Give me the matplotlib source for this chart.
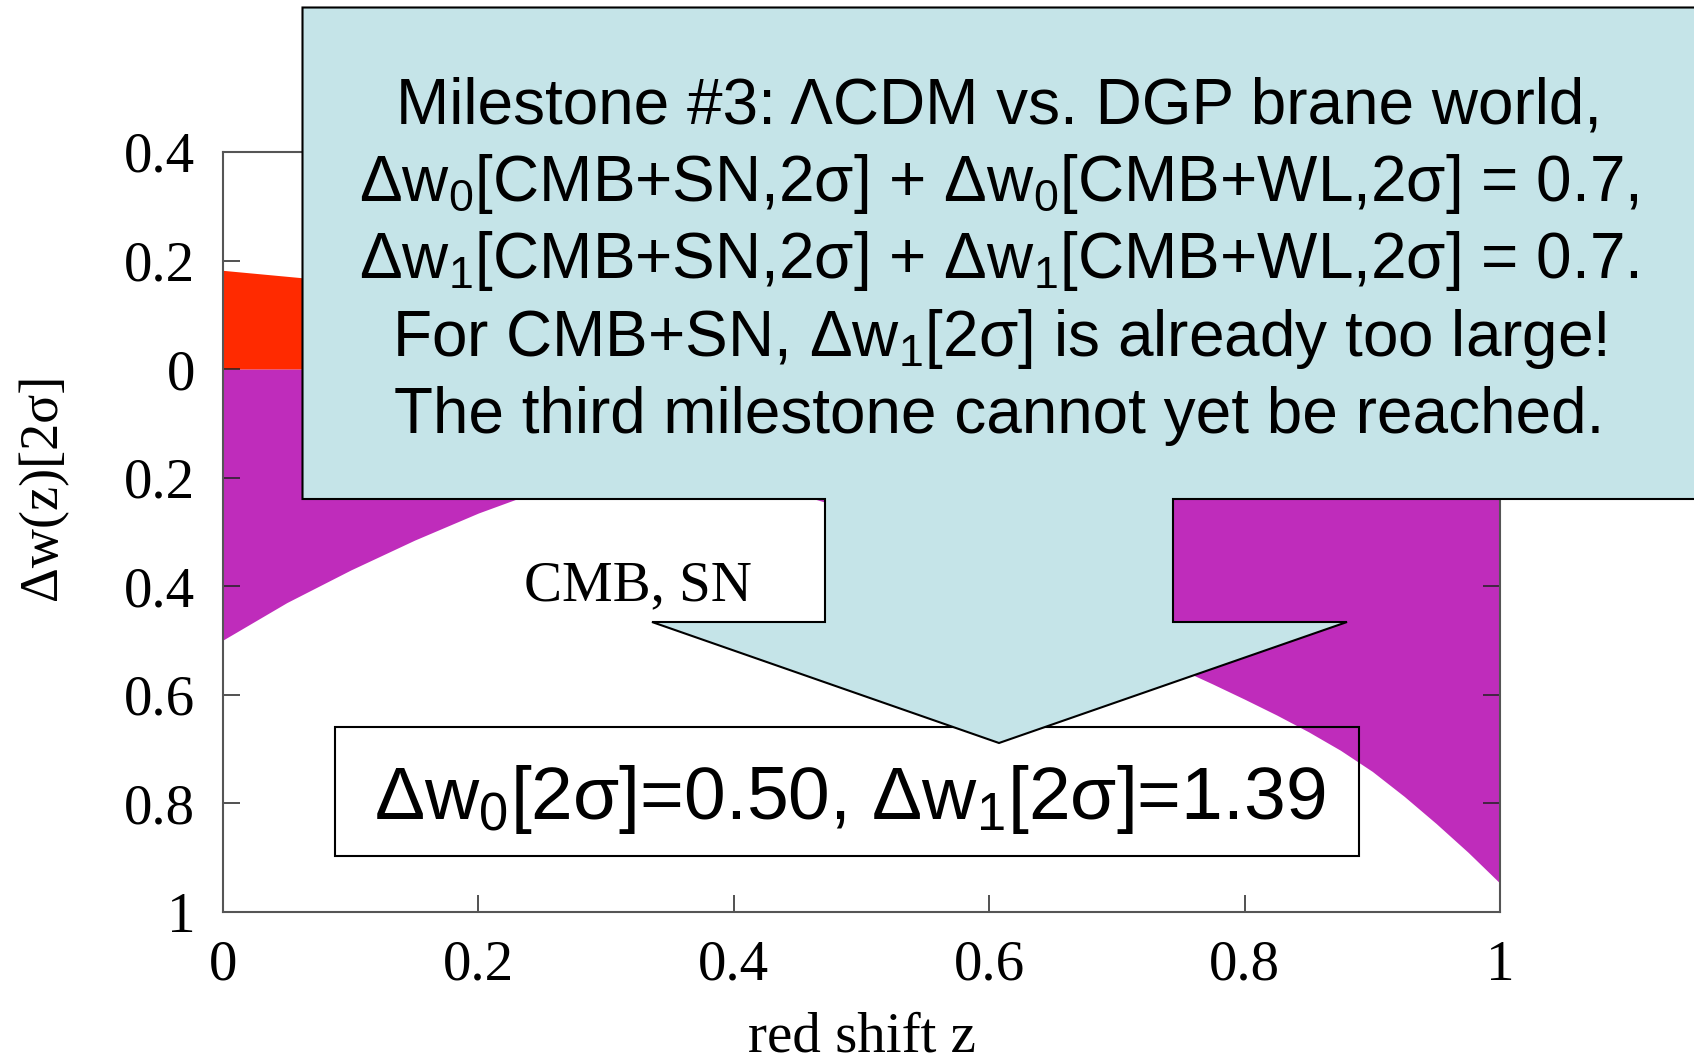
import matplotlib
matplotlib.use("Agg")
import matplotlib.pyplot as plt
from matplotlib.patches import Polygon, Rectangle
from matplotlib.ticker import FuncFormatter

plt.rcParams["font.family"] = ["Liberation Serif", "DejaVu Serif"]
plt.rcParams["mathtext.default"] = "regular"

# ---- values ----
z = [0.00, 0.05, 0.10, 0.15, 0.20, 0.25, 0.30, 0.35, 0.40, 0.45, 0.50,
     0.55, 0.60, 0.65, 0.70, 0.75, 0.775, 0.80, 0.825, 0.85, 0.875, 0.90,
     0.925, 0.95, 0.975, 1.00]
# lower edge of the CMB+SN band (purple), 2 sigma
dw_lower = [-0.499, -0.430, -0.370, -0.315, -0.265, -0.222, -0.200, -0.195,
            -0.205, -0.230, -0.265, -0.320, -0.385, -0.445, -0.500, -0.553,
            -0.580, -0.608, -0.637, -0.668, -0.702, -0.741, -0.787, -0.837,
            -0.890, -0.947]
# upper edge (red), only visible at low z
dw_upper = [0.182, 0.171, 0.160, 0.150, 0.140, 0.131, 0.122, 0.113, 0.105,
            0.097, 0.090, 0.083, 0.076, 0.070, 0.064, 0.058, 0.055, 0.053,
            0.050, 0.048, 0.045, 0.043, 0.040, 0.038, 0.036, 0.034]

x_ticks = [0, 0.2, 0.4, 0.6, 0.8, 1]
y_ticks = [0.4, 0.2, 0, -0.2, -0.4, -0.6, -0.8, -1]

callout_lines = [
    "Milestone #3: \u039bCDM vs. DGP brane world,",
    "\u0394w$_0$[CMB+SN,2\u03c3] + \u0394w$_0$[CMB+WL,2\u03c3] = 0.7,",
    "\u0394w$_1$[CMB+SN,2\u03c3] + \u0394w$_1$[CMB+WL,2\u03c3] = 0.7.",
    "For CMB+SN, \u0394w$_1$[2\u03c3] is already too large!",
    "The third milestone cannot yet be reached.",
]
result_text = "\u0394w$_0$[2\u03c3]=0.50, \u0394w$_1$[2\u03c3]=1.39"
band_label = "CMB, SN"

# ---- figure ----
W, H = 1694, 1061
fig = plt.figure(figsize=(W / 100, H / 100), dpi=100)


def px(x, y):
    # pixel position (origin top-left) -> figure fraction
    return (x / W, 1 - y / H)


ax = fig.add_axes([223 / W, 1 - 912 / H, (1500 - 223) / W, (912 - 152) / H])
ax.fill_between(z, 0, dw_upper, color="#ff2a00", lw=0)
ax.fill_between(z, dw_lower, 0, color="#bf2cbb", lw=0)

ax.set_xlim(0, 1)
ax.set_ylim(-1, 0.4)
ax.set_xticks(x_ticks)
ax.set_yticks(y_ticks)
fmt = FuncFormatter(lambda v, pos: "%g" % abs(round(v, 3)))
ax.xaxis.set_major_formatter(fmt)
ax.yaxis.set_major_formatter(fmt)
ax.tick_params(direction="in", length=12.5, width=1.1, top=True, right=True,
               labelsize=41, pad=20, color="#222222")
for s in ax.spines.values():
    s.set_color("#555555")
    s.set_linewidth(1.5)

ax.set_xlabel("red shift z", fontsize=41, labelpad=14)
ax.set_ylabel("\u0394w(z)[2\u03c3]", fontsize=39)
ax.yaxis.set_label_coords(-0.141, 0.56)
ax.yaxis.label.set_va("center")

ax.text(0.325, -0.425, band_label, fontsize=41, ha="center", va="baseline")

# result box (no fill, purple shows through)
x0, y0 = px(335, 856)
x1, y1 = px(1359, 727)
fig.patches.append(Rectangle((x0, y0), x1 - x0, y1 - y0, transform=fig.transFigure,
                             fill=False, ec="black", lw=1.5, zorder=1))
fig.text(850 / W, 1 - 819 / H, result_text, fontsize=54, ha="center",
         va="baseline", family="Liberation Sans", zorder=2)

# callout with arrow
verts = [(302.5, 7.5), (1710, 7.5), (1710, 499), (1173, 499), (1173, 622),
         (1347, 622), (999, 743), (652, 622), (825, 622), (825, 499),
         (302.5, 499)]
fig.patches.append(Polygon([px(*v) for v in verts], closed=True,
                           transform=fig.transFigure, fc="#c5e4e8",
                           ec="black", lw=1.5, zorder=3))

for i, line in enumerate(callout_lines):
    fig.text(999 / W, 1 - (124 + 77.2 * i) / H, line, fontsize=46,
             ha="center", va="baseline", family="Liberation Sans", zorder=4)

fig.savefig("out.png", dpi=100)
